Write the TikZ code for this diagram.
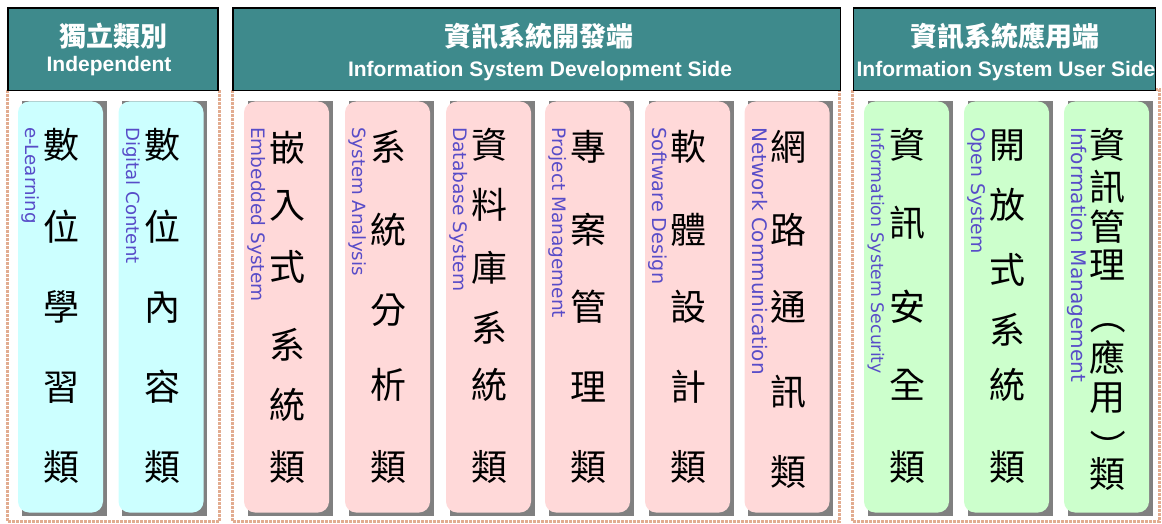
\documentclass[tikz,border=0pt]{standalone}
\usepackage{fontspec}
\setmainfont{Liberation Sans}
\newfontfamily\cjk{Noto Sans CJK TC}
\newfontfamily\lbl{DejaVu Sans}
\definecolor{hdrteal}{RGB}{62,138,140}
\definecolor{dotc}{RGB}{226,172,144}
\definecolor{cyanbox}{RGB}{204,255,255}
\definecolor{pinkbox}{RGB}{255,217,217}
\definecolor{greenbox}{RGB}{204,255,204}
\definecolor{shadowc}{RGB}{128,128,128}
\definecolor{lblc}{RGB}{88,76,200}
\tikzset{
  dotbox/.style={draw=dotc, line width=3pt, dash pattern=on 2.6pt off 1.4pt},
  hdr/.style={draw=black, line width=1.5pt, fill=hdrteal},
  hzh/.style={anchor=base, inner sep=0pt, text=white, font=\cjk\bfseries\fontsize{27}{27}\selectfont},
  hen/.style={anchor=base, inner sep=0pt, text=white, font=\bfseries\fontsize{21}{21}\selectfont},
  cjkchar/.style={anchor=base, inner sep=0pt, font=\cjk\fontsize{36}{36}\selectfont},
  vparen/.style={rotate=-90, anchor=center, inner sep=0pt, font=\cjk\fontsize{36}{36}\selectfont},
  enlabel/.style={rotate=-90, anchor=base west, inner sep=0pt, text=lblc}
}
\newcommand\mkcol[6]{%
  \fill[shadowc] (#2+3.5,101.5) rectangle (#2+88.5,516);
  \fill[#3, rounded corners=11pt] (#2,101.5) rectangle (#2+85,512.5);
  \node[enlabel, font=\lbl\fontsize{#5}{#5}\selectfont] (#1en) at (#2+7.5,127) {#4};
  \foreach \zch/\yy [count=\i] in {#6}
    \node[cjkchar] (#1c\i) at (#2+43.5,\yy+13.7) {\zch};
}
\begin{document}
\begin{tikzpicture}[x=1pt,y=-1pt]
\useasboundingbox (0,0) rectangle (1162,524);
% dotted group frames
\draw[dotbox] (7.5,90) rectangle (219.5,521.5);
\draw[dotbox] (232.5,90) rectangle (839.5,521.5);
\draw[dotbox] (852.5,90) rectangle (1159.5,521.5);
% headers
\draw[hdr] (8,8) rectangle (218,90.5);
\draw[hdr] (233,8) rectangle (840.5,90.5);
\draw[hdr] (853.5,8) rectangle (1155.5,90.5);
\node[hzh] (h1zh) at (113.5,46.3) {獨立類別};
\node[hen] (h1en) at (109,72) {Independent};
\node[hzh] (h2zh) at (538.5,46.3) {資訊系統開發端};
\node[hen] (h2en) at (540,76.5) {Information System Development Side};
\node[hzh] (h3zh) at (1005,46.3) {資訊系統應用端};
\node[hen] (h3en) at (1006,76.5) {Information System User Side};
% columns
\mkcol{a}{18}{cyanbox}{e-Learning}{18.2}{數/145,位/227,學/307,習/387,類/467}
\mkcol{b}{118.5}{cyanbox}{Digital Content}{18.1}{數/145,位/227,內/307,容/387,類/467}
\mkcol{c}{244}{pinkbox}{Embedded System}{18.5}{嵌/148,入/205,式/267,系/345,統/405,類/467}
\mkcol{d}{345}{pinkbox}{System Analysis}{18.2}{系/147,統/230,分/310,析/385,類/467}
\mkcol{e}{446}{pinkbox}{Database System}{18.6}{資/145,料/205,庫/268,系/328,統/385,類/467}
\mkcol{f}{545}{pinkbox}{Project Management}{18.5}{專/147,案/230,管/307,理/387,類/467}
\mkcol{g}{645}{pinkbox}{Software Design}{19.2}{軟/147,體/230,設/307,計/387,類/467}
\mkcol{h}{744.5}{pinkbox}{Network Communication}{20}{網/147,路/230,通/307,訊/392,類/472}
\mkcol{i}{864}{greenbox}{Information System Security}{17.3}{資/145,訊/223,安/307,全/385,類/467}
\mkcol{j}{964}{greenbox}{Open System}{18.8}{開/145,放/205,式/270,系/330,統/385,類/467}
\mkcol{k}{1064}{greenbox}{Information Management}{20.1}{資/145,訊/187,管/227,理/265,應/358,用/397,類/474}
\node[vparen] (kpo) at (1108,316) {（};
\node[vparen] (kpc) at (1108,447.5) {）};
\end{tikzpicture}
\end{document}
